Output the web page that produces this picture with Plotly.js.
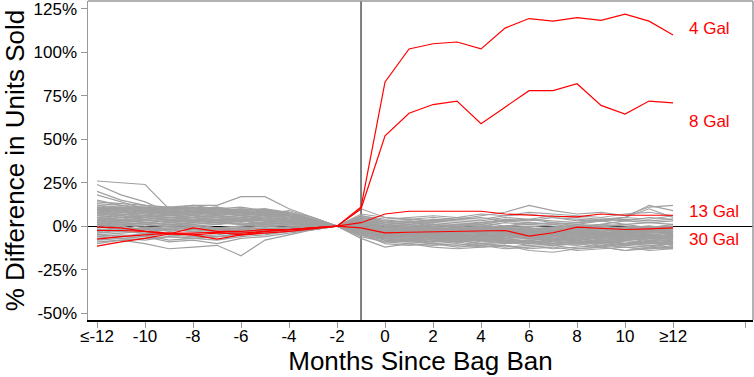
<!DOCTYPE html>
<html><head><meta charset="utf-8">
<script src="https://cdn.plot.ly/plotly-3.0.1.min.js"></script>
<style>html,body{margin:0;padding:0;background:#fff}#chart{width:754px;height:377px}</style>
</head><body><div id="chart"></div>
<script>
// Months relative to the bag ban (first = "≤-12", last = "≥12")
const months = [-12,-11,-10,-9,-8,-7,-6,-5,-4,-3,-2,-1,0,1,2,3,4,5,6,7,8,9,10,11,12];
const tickValues = [-12,-10,-8,-6,-4,-2,0,2,4,6,8,10,12,15];
const tickLabels = ["≤-12","-10","-8","-6","-4","-2","0","2","4","6","8","10","≥12",""];
const yTickValues = [-50,-25,0,25,50,75,100,125];
const yTickLabels = ["-50%","-25%","0%","25%","50%","75%","100%","125%"];

// Treated bag sizes (% difference in units sold)
const gal4  = [-11.5,-9,-7,-4.5,-5,-4,-4,-3,-2,-1,0,11,83,102,105,106,102,114,119.5,118,120,118.5,122,118,110];
const gal8  = [-0.5,-1,-3,-4.5,-1,-3,-3,-2,-2,-1,0,10,52,65,70,72,59,68.5,78,78,82,69.5,64.5,72,71];
const gal13 = [-7.5,-6,-5,-4,-5,-7.5,-5,-4,-3,-1.5,0,2,7,8.6,8.6,8.3,8.6,7,6.3,5.7,5.4,7,6.3,6.3,6.3];
const gal30 = [-2.5,-2.5,-3,-4,-4,-3.5,-5,-3,-2,-1,0,-1,-3.8,-3.5,-3.2,-3,-2.5,-2.5,-5.7,-3.8,-0.5,-1.2,-1.9,-1.6,-1];
const redNames = ["4 Gal","8 Gal","13 Gal","30 Gal"];
const redLabelY = [114,60,8.6,-7.5];

// Placebo (untreated) series
const placebo = [
 [26,25,24,10,12,12,17,17,10,5,0,4,2,3,1,0,2,3,4,2,1,3,5,4,6],
 [24,18,14,8,9,8,9,7,6,3,0,6,3,4,5,4,6,8,12,9,7,8,6,11,12],
 [20,15,12,9,10,11,8,9,7,4,0,10,5,4,3,5,4,6,7,5,3,4,5,12,9],
 [18,14,10,6,7,8,6,5,4,2,0,-2,-4,-5,-6,-5,-4,-6,-5,-4,-6,-7,-5,-6,-5],
 [12,10,9,8,8,9,8,7,9,5,0,3,0,1,-1,-2,0,-1,-3,-2,-1,0,-2,-1,0],
 [10,9,8,10,9,7,8,6,5,3,0,-3,-6,-7,-8,-9,-7,-8,-9,-10,-9,-8,-10,-9,-11],
 [9,8,7,6,5,7,6,5,4,2,0,1,-2,-3,-2,-4,-3,-2,-4,-5,-3,-4,-3,-5,-4],
 [8,7,6,5,6,5,4,5,3,2,0,5,2,1,2,1,0,2,1,0,-1,1,0,-1,1],
 [7,8,6,4,5,6,7,6,5,3,0,-5,-8,-9,-10,-11,-10,-12,-11,-13,-12,-11,-12,-13,-12],
 [6,5,6,7,5,4,5,3,4,2,0,2,-1,0,-2,-1,-3,-2,-1,-3,-2,-4,-3,-2,-3],
 [5,6,4,5,4,3,4,5,3,1,0,-1,-4,-5,-4,-6,-5,-7,-6,-5,-7,-6,-8,-7,-6],
 [4,5,5,3,4,5,3,4,2,1,0,3,1,0,1,-1,0,-1,-2,-1,0,-2,-1,0,-2],
 [3,4,2,3,2,4,3,2,3,1,0,-2,-5,-6,-7,-6,-8,-7,-9,-8,-7,-9,-8,-10,-9],
 [2,3,4,2,3,2,1,2,1,1,0,0,-3,-2,-4,-3,-2,-4,-3,-5,-4,-3,-5,-4,-3],
 [1,2,1,0,2,1,3,1,2,0,0,4,1,2,0,1,2,0,1,2,0,1,3,2,1],
 [0,1,-1,0,1,-1,0,1,0,0,0,-4,-7,-8,-6,-9,-8,-10,-9,-11,-10,-12,-10,-11,-12],
 [-1,0,-2,-1,0,-2,-1,0,-1,0,0,1,-2,-3,-1,-2,-4,-3,-2,-4,-3,-2,-4,-3,-2],
 [-2,-1,-3,-2,-1,-3,-2,-1,-2,-1,0,-3,-5,-4,-6,-5,-7,-6,-5,-7,-6,-8,-7,-6,-8],
 [-3,-2,-1,-3,-2,-1,-3,-2,-1,-1,0,2,0,-1,1,0,-1,0,2,1,-1,0,1,-1,0],
 [-4,-3,-4,-2,-3,-4,-2,-3,-2,-1,0,-6,-9,-10,-11,-10,-12,-11,-13,-12,-14,-13,-12,-14,-13],
 [-5,-4,-3,-5,-4,-3,-4,-2,-3,-1,0,-1,-4,-3,-5,-4,-3,-5,-4,-6,-5,-4,-6,-5,-4],
 [-6,-5,-6,-4,-5,-6,-4,-3,-2,-1,0,0,-2,-1,-3,-2,-1,-3,-2,-4,-3,-2,-1,-3,-2],
 [-7,-6,-5,-8,-7,-6,-5,-4,-3,-2,0,-4,-6,-7,-8,-7,-9,-8,-7,-9,-10,-8,-9,-10,-9],
 [-9,-8,-10,-13,-12,-11,-17,-8,-5,-2,0,-7,-12,-10,-12,-13,-12,-11,-14,-15,-13,-12,-14,-13,-12],
 [11,10,11,9,10,11,9,10,8,4,0,6,4,5,6,5,7,6,8,7,6,5,7,8,6],
 [13,12,11,10,11,10,9,8,7,4,0,-3,-5,-6,-4,-5,-6,-4,-5,-7,-6,-5,-7,-6,-5],
 [9,10,9,11,10,9,10,9,8,5,0,-1,-3,-2,-4,-3,-5,-4,-3,-5,-6,-4,-5,-6,-7],
 [7,6,8,9,8,7,9,8,6,3,0,-2,-7,-6,-8,-7,-6,-8,-10,-9,-8,-10,-11,-9,-10],
 [6,7,5,6,7,8,6,7,5,3,0,1,-1,-2,-1,-3,-2,-1,-3,-2,-4,-3,-2,-4,-3],
 [5,4,6,5,4,6,5,4,5,2,0,-2,-4,-5,-3,-4,-6,-5,-4,-3,-5,-6,-4,-5,-6],
 [4,3,5,4,3,5,4,3,2,1,0,2,-2,-1,-3,-4,-2,-3,-5,-4,-3,-5,-4,-3,-5],
 [3,2,3,4,3,2,4,3,2,1,0,-3,-8,-9,-7,-8,-10,-9,-8,-10,-11,-9,-10,-8,-9],
 [8,9,7,8,7,9,7,6,7,3,0,3,-1,0,-2,-1,-2,0,-1,-2,-3,-1,-2,-3,-1],
 [10,11,9,8,9,10,8,9,6,3,0,-2,-6,-5,-7,-6,-5,-7,-6,-8,-7,-6,-8,-7,-6],
 [2,1,2,1,2,3,1,2,1,0,0,-1,-3,-4,-2,-3,-4,-2,-3,-1,-2,-4,-3,-2,-3],
 [-2,-3,-1,-2,-3,-2,-1,-2,-1,0,0,-5,-9,-8,-10,-9,-11,-10,-9,-11,-10,-9,-11,-12,-10],
 [14,13,12,11,12,10,11,9,8,4,0,5,3,2,4,3,2,4,3,5,4,3,4,3,4],
 [-8,-7,-6,-9,-8,-10,-7,-6,-4,-2,0,-3,-5,-6,-5,-7,-6,-5,-7,-8,-6,-5,-7,-6,-8],
 [12,11,10,9,8,9,10,9,7,3,0,7,5,4,3,4,5,3,4,6,5,4,5,10,5],
 [1,0,2,1,0,1,2,0,1,0,0,-4,-6,-5,-7,-6,-8,-7,-6,-8,-7,-9,-8,-7,-9],
 [11,9,10,8,9,8,7,8,6,3,0,4,1,2,3,2,1,3,2,1,2,3,1,2,3],
 [9,11,8,9,8,10,9,7,7,4,0,-1,-5,-4,-6,-5,-4,-6,-7,-5,-4,-6,-5,-7,-6],
 [7,9,8,7,9,8,7,8,5,3,0,2,-3,-2,-3,-4,-3,-2,-4,-3,-5,-4,-3,-2,-4],
 [6,8,7,8,6,7,8,6,6,3,0,-2,-6,-7,-6,-8,-7,-9,-8,-7,-9,-8,-7,-9,-8],
 [5,7,6,6,7,6,5,6,4,2,0,1,-2,-1,-2,-3,-1,-2,-1,-3,-2,-1,-2,-3,-1],
 [4,6,5,7,6,5,6,4,4,2,0,0,-4,-3,-5,-4,-6,-5,-4,-6,-5,-7,-6,-5,-6],
 [3,5,4,5,5,6,4,5,3,2,0,-1,-5,-6,-5,-7,-5,-6,-7,-6,-8,-7,-6,-8,-7],
 [2,4,3,4,4,3,5,3,3,1,0,1,-1,-2,0,-1,-2,-1,-3,-2,-1,-3,-2,-1,-2],
 [1,3,2,3,3,2,3,4,2,1,0,-2,-7,-8,-9,-8,-7,-9,-8,-10,-9,-8,-10,-11,-10],
 [0,2,1,2,1,2,1,2,1,1,0,3,0,1,-1,0,1,-1,0,-1,1,0,-1,0,-1],
 [-1,1,0,1,0,-1,0,1,0,0,0,-3,-6,-5,-4,-6,-5,-4,-6,-5,-4,-6,-7,-5,-6],
 [-3,-1,-2,0,-1,-2,-1,0,-1,0,0,0,-3,-4,-3,-2,-4,-3,-5,-4,-3,-5,-4,-6,-5],
 [-4,-2,-3,-1,-2,-3,-2,-1,-2,-1,0,-2,-8,-7,-9,-8,-10,-9,-11,-10,-9,-11,-10,-9,-11],
 [-5,-6,-4,-5,-6,-5,-3,-4,-2,-1,0,-4,-10,-11,-10,-12,-11,-13,-12,-11,-13,-12,-14,-12,-13],
 [-6,-7,-8,-6,-7,-8,-6,-5,-3,-2,0,1,-2,-3,-4,-3,-2,-4,-3,-2,-4,-5,-3,-4,-3],
 [15,12,10,11,9,10,9,10,7,4,0,5,2,3,2,4,3,5,4,3,2,4,3,5,4],
 [10,8,9,7,8,7,8,6,5,3,0,-1,-3,-4,-3,-2,-4,-3,-2,-4,-3,-5,-4,-3,-5],
 [8,10,9,10,11,9,8,7,6,3,0,3,-2,-1,-2,-1,-3,-2,-4,-3,-2,-1,-3,-2,-4],
 [-10,-8,-7,-6,-7,-6,-5,-4,-3,-1,0,-5,-7,-8,-9,-7,-8,-9,-10,-8,-9,-10,-11,-9,-10],
 [5,3,4,2,3,4,3,2,3,1,0,-1,-6,-5,-6,-5,-7,-6,-5,-7,-8,-6,-5,-7,-6]
];

const traces = [];
placebo.forEach(s => traces.push({
  x: months, y: s, type: 'scatter', mode: 'lines',
  line: {color: '#a0a0a0', width: 1.2}, hoverinfo: 'skip', showlegend: false
}));
[gal4, gal8, gal13, gal30].forEach((s, i) => traces.push({
  x: months, y: s, type: 'scatter', mode: 'lines', name: redNames[i],
  line: {color: '#ff0000', width: 1.2}, showlegend: false
}));

const annotations = redNames.map((n, i) => ({
  x: 12.6, y: redLabelY[i], xref: 'x', yref: 'y', text: n, showarrow: false,
  xanchor: 'left', yanchor: 'middle',
  font: {family: 'Liberation Sans, Arial, sans-serif', size: 17, color: '#ff0000'}
}));

const layout = {
  width: 754, height: 377,
  margin: {l: 88, r: 1, t: 1, b: 57},
  paper_bgcolor: '#fff', plot_bgcolor: '#fff',
  font: {family: 'Liberation Sans, Arial, sans-serif', color: '#000'},
  showlegend: false,
  xaxis: {
    range: [-12.375, 15.33], tickmode: 'array', tickvals: tickValues, ticktext: tickLabels,
    showgrid: false, zeroline: false, showline: true, linecolor: '#000', linewidth: 1.5,
    ticks: 'outside', ticklen: 6, tickcolor: '#999', tickfont: {size: 17},
    ticklabelstandoff: -6, ticklabeloverflow: 'allow',
    title: {text: 'Months Since Bag Ban', font: {size: 26}, standoff: 0}
  },
  yaxis: {
    range: [-54, 129.6], tickmode: 'array', tickvals: yTickValues, ticktext: yTickLabels,
    showgrid: false, zeroline: true, zerolinecolor: '#000', zerolinewidth: 1,
    showline: true, linecolor: '#999', linewidth: 1.5,
    ticks: 'outside', ticklen: 6, tickcolor: '#999', tickfont: {size: 17},
    ticklabeloverflow: 'allow',
    title: {text: '% Difference in Units Sold', font: {size: 26}, standoff: 4}
  },
  shapes: [
    {type: 'line', xref: 'x', yref: 'paper', x0: -1, x1: -1, y0: 0, y1: 1, layer: 'below', line: {color: '#000', width: 1}},
    {type: 'line', xref: 'paper', yref: 'paper', x0: 0, x1: 1, y0: 1, y1: 1, line: {color: '#999', width: 1.5}},
    {type: 'line', xref: 'paper', yref: 'paper', x0: 1, x1: 1, y0: 0, y1: 1, line: {color: '#999', width: 1.5}}
  ],
  annotations: annotations
};

Plotly.newPlot('chart', traces, layout, {displayModeBar: false, staticPlot: true});
</script>
</body></html>
